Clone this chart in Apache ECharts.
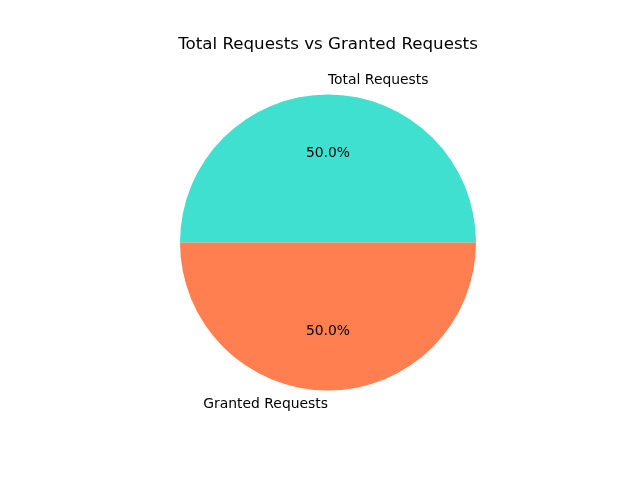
<!DOCTYPE html>
<html>
<head>
<meta charset="utf-8">
<script src="https://cdn.jsdelivr.net/npm/echarts@6/dist/echarts.min.js"></script>
<style>
  html, body { margin: 0; padding: 0; background: #fff; }
  #pie-chart { width: 640px; height: 480px; }
</style>
</head>
<body>
<div id="pie-chart"></div>
<script>
const pieChart = echarts.init(document.getElementById("pie-chart"));

const CATEGORIES = ["Total Requests", "Granted Requests"];
const VALUES = [100, 100];
const COLORS = ["#40E0D0", "#FF7F50"];
const TITLE = "Total Requests vs Granted Requests";

const R = 148;
const CENTER = [328, 242.5];
const FONT = "DejaVu Sans";

const total = VALUES.reduce((a, b) => a + b, 0);
const pieData = CATEGORIES.map((name, i) => ({
  name,
  value: VALUES[i],
  itemStyle: { color: COLORS[i] }
}));

const base = {
  type: "pie",
  center: CENTER,
  startAngle: 180,
  clockwise: true,
  silent: true,
  animation: false,
  labelLine: { show: false }
};

pieChart.setOption({
  title: {
    text: TITLE,
    left: 323,
    top: 31,
    textAlign: "center",
    textStyle: { fontFamily: FONT, fontSize: 16.7, fontWeight: "normal", color: "#000" }
  },
  series: [
    {
      ...base,
      radius: R,
      itemStyle: { borderWidth: 0 },
      label: { show: false },
      data: pieData
    },
    {
      // percentages at 0.6 r
      ...base,
      radius: R * 1.16,
      z: 3,
      itemStyle: { color: "transparent", borderWidth: 0 },
      label: {
        show: true,
        position: "inside",
        fontFamily: FONT,
        fontSize: 13.9,
        color: "#000",
        formatter: p => (p.value / total * 100).toFixed(1) + "%"
      },
      data: pieData.map(d => ({ name: d.name, value: d.value, itemStyle: { color: "transparent" } }))
    },
    {
      // names at 1.1 r, left/right aligned like matplotlib
      ...base,
      radius: R * 2.15,
      z: 3,
      itemStyle: { color: "transparent", borderWidth: 0 },
      label: {
        show: true,
        position: "inside",
        fontFamily: FONT,
        fontSize: 13.9,
        color: "#000",
        formatter: "{b}"
      },
      labelLayout: p => ({
        dx: p.dataIndex === 0 ? p.labelRect.width / 2 : -p.labelRect.width / 2
      }),
      data: pieData.map(d => ({ name: d.name, value: d.value, itemStyle: { color: "transparent" } }))
    }
  ]
});
</script>
</body>
</html>
